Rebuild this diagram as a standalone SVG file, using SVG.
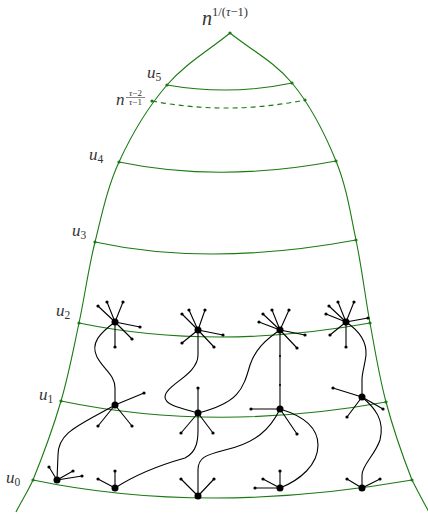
<svg xmlns="http://www.w3.org/2000/svg" width="428" height="514" viewBox="0 0 428 514">
<style>
.g{fill:none;stroke:#1a7a12;stroke-width:1.1}
.gd{fill:#1a7a12}
.e{fill:none;stroke:#000;stroke-width:1.1}
.hub{fill:#000}
.lf{fill:#000}
.lab{font-family:"Liberation Serif","DejaVu Serif",serif;font-style:italic;fill:#333}
.up{font-family:"Liberation Serif","DejaVu Serif",serif;font-style:normal;fill:#333}
</style>
<rect width="428" height="514" fill="#fff"/>
<g id="boundary">
<path class="g" d="M230,33 C209,50.3 185.5,63.5 167,85 C148.5,106.5 131,135.8 119,162 C107,188.2 101.7,215.2 95,242 C88.3,268.8 84.7,296.5 79,323 C73.3,349.5 68.7,374.8 61,401 C53.3,427.2 40.5,461.5 33,480 C28,491 21,502 16,512"/>
<path class="g" d="M230,33 C250.7,49.7 274.3,61.7 292,83 C309.7,104.3 325.3,134.8 336,161 C346.7,187.2 350.3,213 356,240 C361.7,267 365,296 370,323 C375,350 379,375.8 386,402 C393,428.2 404.7,461.3 412,480 C418,492 424,502.7 430,514"/>
<circle class="gd" cx="230" cy="33" r="1.6"/>
</g>
<g id="levels">
<path class="g" d="M167,85 Q230,96 292,83"/>
<path class="g" d="M152,101 Q228,115.5 305,100" stroke-dasharray="5,4"/>
<path class="g" d="M119,162 Q220,183 336,161"/>
<path class="g" d="M95,242 Q210,267 356,240"/>
<path class="g" d="M79,323 Q215,351 370,323"/>
<path class="g" d="M61,401 Q215,433 386,402"/>
<path class="g" d="M33,480 Q205,516 412,480"/>
<g class="gd">
<circle cx="167" cy="85" r="1.6"/><circle cx="292" cy="83" r="1.6"/>
<circle cx="152" cy="101" r="1.6"/><circle cx="305" cy="100" r="1.6"/>
<circle cx="119" cy="162" r="1.6"/><circle cx="336" cy="161" r="1.6"/>
<circle cx="95" cy="242" r="1.6"/><circle cx="356" cy="240" r="1.6"/>
<circle cx="79" cy="323" r="1.6"/><circle cx="370" cy="323" r="1.6"/>
<circle cx="61" cy="401" r="1.6"/><circle cx="386" cy="402" r="1.6"/>
<circle cx="33" cy="480" r="1.6"/><circle cx="412" cy="480" r="1.6"/>
</g>
</g>
<g id="labels">
<text class="lab" x="202" y="25" font-size="20">n<tspan class="up" font-size="12.5" dy="-9" font-style="normal">1/(</tspan><tspan font-size="12.5">τ</tspan><tspan class="up" font-size="12.5" font-style="normal">−1)</tspan></text>
<text class="lab" x="147" y="78" font-size="17">u<tspan font-size="11.5" dy="3" font-style="normal">5</tspan></text>
<text class="lab" x="116" y="105" font-size="17">n</text>
<text class="lab" x="135.5" y="95.5" font-size="9" text-anchor="middle">τ<tspan font-style="normal">−2</tspan></text>
<line x1="126" y1="97.5" x2="145" y2="97.5" stroke="#333" stroke-width="0.6"/>
<text class="lab" x="135.5" y="105" font-size="9" text-anchor="middle">τ<tspan font-style="normal">−1</tspan></text>
<text class="lab" x="89" y="160" font-size="17">u<tspan font-size="11.5" dy="3" font-style="normal">4</tspan></text>
<text class="lab" x="72" y="236" font-size="17">u<tspan font-size="11.5" dy="3" font-style="normal">3</tspan></text>
<text class="lab" x="56" y="316" font-size="17">u<tspan font-size="11.5" dy="3" font-style="normal">2</tspan></text>
<text class="lab" x="39" y="400" font-size="17">u<tspan font-size="11.5" dy="3" font-style="normal">1</tspan></text>
<text class="lab" x="6" y="483" font-size="17">u<tspan font-size="11.5" dy="3" font-style="normal">0</tspan></text>
</g>
<g id="connectors">
<path class="e" d="M115,322 C100,333 90,343 97,357 C104,370 115,375 115,388 L115,405"/>
<path class="e" d="M115,405 C80,425 58,432 58,455 L57,480"/>
<path class="e" d="M198,330 L198,355 C198,375 165,385 165,397 C165,405 180,408 198,413"/>
<path class="e" d="M280,330 C265,340 255,350 250,365 C243,390 238,403 198,413"/>
<path class="e" d="M280,330 L280,409"/>
<path class="e" d="M115,488 C135,475 160,465 185,458 C197,452 198,440 198,430 L198,414"/>
<path class="e" d="M198,496 L198,470 C198,458 205,455 225,450 C255,443 270,430 280,409"/>
<path class="e" d="M280,409 C300,415 318,425 318,445 C318,465 300,480 280,488"/>
<path class="e" d="M346,322 C358,330 367,340 366,355 C365,365 362,372 362,380 L362,397"/>
<path class="e" d="M362,397 C375,408 385,420 380,440 C375,455 362,465 362,475 L362,488"/>
</g>
<g id="n21">
<path class="e" d="M115,322 L98,306 M115,322 L107,302 M115,322 L123,302 M115,322 L140,327 M115,322 L132,339 M115,322 L115,347"/>
<circle class="hub" cx="115" cy="322" r="3.5"/>
<g class="lf"><circle cx="98" cy="306" r="1.6"/><circle cx="107" cy="302" r="1.6"/><circle cx="123" cy="302" r="1.6"/><circle cx="140" cy="327" r="1.6"/><circle cx="132" cy="339" r="1.6"/><circle cx="115" cy="347" r="1.6"/></g>
</g>
<g id="n22">
<path class="e" d="M198,330 L182,314 M198,330 L189,310 M198,330 L205,310 M198,330 L223,335 M198,330 L214,347 M198,330 L182,343"/>
<circle class="hub" cx="198" cy="330" r="3.5"/>
<g class="lf"><circle cx="182" cy="314" r="1.6"/><circle cx="189" cy="310" r="1.6"/><circle cx="205" cy="310" r="1.6"/><circle cx="223" cy="335" r="1.6"/><circle cx="214" cy="347" r="1.6"/><circle cx="182" cy="343" r="1.6"/></g>
</g>
<g id="n23">
<path class="e" d="M280,330 L259,322 M280,330 L263,314 M280,330 L272,310 M280,330 L289,310 M280,330 L305,335 M280,330 L297,348"/>
<circle class="hub" cx="280" cy="330" r="3.5"/>
<g class="lf"><circle cx="259" cy="322" r="1.6"/><circle cx="263" cy="314" r="1.6"/><circle cx="272" cy="310" r="1.6"/><circle cx="289" cy="310" r="1.6"/><circle cx="305" cy="335" r="1.6"/><circle cx="297" cy="348" r="1.6"/><circle cx="280" cy="356" r="1"/><circle cx="280" cy="385" r="1"/></g>
</g>
<g id="n24">
<path class="e" d="M346,322 L326,314 M346,322 L329,306 M346,322 L338,302 M346,322 L354,302 M346,322 L368,318 M346,322 L330,335 M346,322 L346,347"/>
<circle class="hub" cx="346" cy="322" r="3.5"/>
<g class="lf"><circle cx="326" cy="314" r="1.6"/><circle cx="329" cy="306" r="1.6"/><circle cx="338" cy="302" r="1.6"/><circle cx="354" cy="302" r="1.6"/><circle cx="368" cy="318" r="1.6"/><circle cx="330" cy="335" r="1.6"/><circle cx="346" cy="347" r="1.6"/></g>
</g>
<g id="n11">
<path class="e" d="M115,405 L144,393 M115,405 L98,426 M115,405 L132,426"/>
<circle class="hub" cx="115" cy="405" r="3.5"/>
<g class="lf"><circle cx="144" cy="393" r="1.6"/><circle cx="98" cy="426" r="1.6"/><circle cx="132" cy="426" r="1.6"/></g>
</g>
<g id="n12">
<path class="e" d="M198,413 L198,388 M198,413 L181,433 M198,413 L213,433"/>
<circle class="hub" cx="198" cy="413" r="3.5"/>
<g class="lf"><circle cx="198" cy="388" r="1.6"/><circle cx="181" cy="433" r="1.6"/><circle cx="213" cy="433" r="1.6"/></g>
</g>
<g id="n13">
<path class="e" d="M280,409 L251,409 M280,409 L297,434"/>
<circle class="hub" cx="280" cy="409" r="3.5"/>
<g class="lf"><circle cx="251" cy="409" r="1.6"/><circle cx="297" cy="434" r="1.6"/></g>
</g>
<g id="n14">
<path class="e" d="M362,397 L333,388 M362,397 L347,417 M362,397 L383,409"/>
<circle class="hub" cx="362" cy="397" r="3.5"/>
<g class="lf"><circle cx="333" cy="388" r="1.6"/><circle cx="347" cy="417" r="1.6"/><circle cx="383" cy="409" r="1.6"/></g>
</g>
<g id="n01">
<path class="e" d="M57,480 L49,467 M57,480 L73,471 M57,480 L82,476"/>
<circle class="hub" cx="57" cy="480" r="3.5"/>
<g class="lf"><circle cx="49" cy="467" r="1.6"/><circle cx="73" cy="471" r="1.6"/><circle cx="82" cy="476" r="1.6"/></g>
</g>
<g id="n02">
<path class="e" d="M115,488 L98,479 M115,488 L115,471"/>
<circle class="hub" cx="115" cy="488" r="3.5"/>
<g class="lf"><circle cx="98" cy="479" r="1.6"/><circle cx="115" cy="471" r="1.6"/></g>
</g>
<g id="n03">
<path class="e" d="M198,496 L181,479 M198,496 L214,479"/>
<circle class="hub" cx="198" cy="496" r="3.5"/>
<g class="lf"><circle cx="181" cy="479" r="1.6"/><circle cx="214" cy="479" r="1.6"/></g>
</g>
<g id="n04">
<path class="e" d="M280,488 L255,488 M280,488 L263,479 M280,488 L280,471"/>
<circle class="hub" cx="280" cy="488" r="3.5"/>
<g class="lf"><circle cx="255" cy="488" r="1.6"/><circle cx="263" cy="479" r="1.6"/><circle cx="280" cy="471" r="1.6"/></g>
</g>
<g id="n05">
<path class="e" d="M362,488 L347,479 M362,488 L380,479"/>
<circle class="hub" cx="362" cy="488" r="3.5"/>
<g class="lf"><circle cx="347" cy="479" r="1.6"/><circle cx="380" cy="479" r="1.6"/></g>
</g>
</svg>
